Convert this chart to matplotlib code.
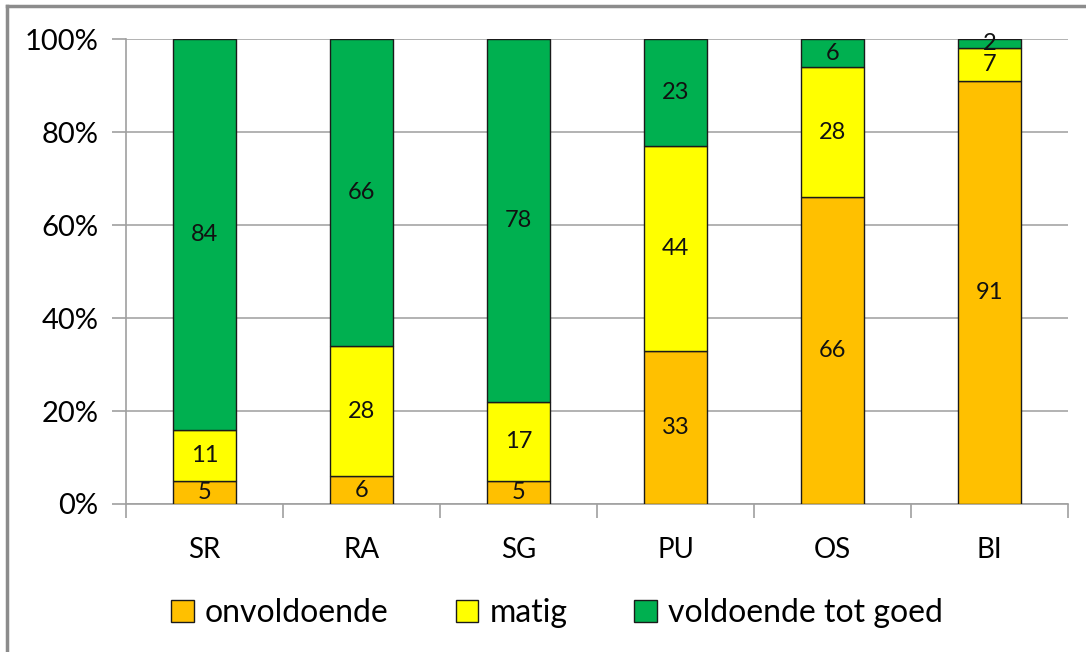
import matplotlib
matplotlib.use("Agg")
import matplotlib.pyplot as plt
from matplotlib.lines import Line2D
import numpy as np

categories = ["SR", "RA", "SG", "PU", "OS", "BI"]
onvoldoende = [5, 6, 5, 33, 66, 91]
matig = [11, 28, 17, 44, 28, 7]
voldoende = [84, 66, 78, 23, 6, 2]
series_names = ["onvoldoende", "matig", "voldoende tot goed"]
colors = ["#FFC000", "#FFFF00", "#00B050"]

plt.rcParams['font.family'] = ['Lato', 'DejaVu Sans']

fig = plt.figure(figsize=(10.86, 6.52), dpi=100)
ax = fig.add_axes([0.116, 0.227, 0.8674, 0.713])

x = np.arange(len(categories))
data = [onvoldoende, matig, voldoende]
bottom = np.zeros(len(categories))
handles = []
for vals, name, col in zip(data, series_names, colors):
    vals = np.array(vals, dtype=float)
    bars = ax.bar(x, vals, 0.4, bottom=bottom, color=col, edgecolor="#1a1a1a",
                  linewidth=1.0, label=name, zorder=3)
    handles.append(bars)
    for xi, b, v in zip(x, bottom, vals):
        ax.text(xi, b + v / 2, f"{int(v)}", ha="center", va="center",
                fontsize=17, color="#111111", zorder=4)
    bottom += vals

ax.set_xlim(-0.5, len(categories) - 0.5)
ax.set_ylim(0, 100)
ax.set_yticks([0, 20, 40, 60, 80, 100])
ax.set_yticklabels(["0%", "20%", "40%", "60%", "80%", "100%"], fontsize=21)
ax.set_xticks(x)
ax.set_xticklabels(categories, fontsize=20)
ax.set_xticks(np.arange(-0.5, len(categories)), minor=True)
ax.tick_params(axis="x", which="major", length=0, pad=24)
ax.tick_params(axis="x", which="minor", length=10, color="#a0a0a0", width=1.2, direction="out")
ax.tick_params(axis="y", length=10, color="#a0a0a0", width=1.2, direction="out", pad=10)
ax.yaxis.grid(True, color="#a6a6a6", linewidth=1.2, zorder=0)
ax.set_axisbelow(True)
for s in ["top", "right"]:
    ax.spines[s].set_visible(False)
for s in ["left", "bottom"]:
    ax.spines[s].set_color("#a0a0a0")
    ax.spines[s].set_linewidth(1.2)

leg = fig.legend(handles=handles, labels=series_names, loc="center",
                 bbox_to_anchor=(0.513, 0.060), ncol=3, frameon=False,
                 fontsize=23, handlelength=0.7, handleheight=0.7,
                 handletextpad=0.35, columnspacing=2.1)

# figure frame: only top and left edges visible
fig.add_artist(Line2D([0.0065, 1.0], [0.9915, 0.9915], transform=fig.transFigure,
                      color="#8c8c8c", linewidth=2.5))
fig.add_artist(Line2D([0.0065, 0.0065], [0.0, 0.9915], transform=fig.transFigure,
                      color="#8c8c8c", linewidth=2.5))

fig.savefig("out.png", dpi=100)
